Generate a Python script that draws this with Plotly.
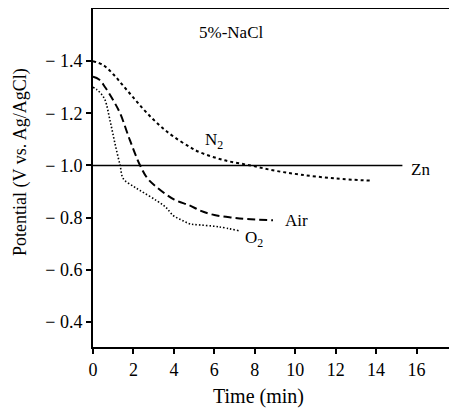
import plotly.graph_objects as go

# Data
t_n2 = [0, 0.5, 1.0, 1.5, 2.0, 2.5, 3.0, 3.5, 4.0, 4.8, 5.3, 6.5, 7.8, 9.0, 10.25, 12.0, 13.7]
v_n2 = [-1.40, -1.385, -1.35, -1.305, -1.26, -1.215, -1.175, -1.14, -1.11, -1.07, -1.05, -1.02, -1.00, -0.98, -0.965, -0.95, -0.942]

t_air = [0, 0.3, 0.6, 1.0, 1.34, 1.83, 2.33, 2.7, 3.15, 4.0, 4.8, 5.3, 6.0, 6.93, 7.6, 8.9]
v_air = [-1.34, -1.33, -1.30, -1.25, -1.20, -1.096, -1.00, -0.95, -0.917, -0.87, -0.846, -0.827, -0.81, -0.80, -0.795, -0.79]

t_o2 = [0, 0.2, 0.4, 0.6, 0.84, 1.09, 1.34, 1.5, 2.0, 2.33, 3.15, 3.6, 3.97, 4.4, 4.8, 5.3, 6.2, 7.2]
v_o2 = [-1.30, -1.29, -1.275, -1.25, -1.173, -1.083, -1.00, -0.949, -0.92, -0.904, -0.865, -0.84, -0.808, -0.79, -0.776, -0.772, -0.765, -0.75]

t_zn = [0, 15.3]
v_zn = [-1.0, -1.0]

x_ticks = [0, 2, 4, 6, 8, 10, 12, 14, 16]
y_ticks = [-1.4, -1.2, -1.0, -0.8, -0.6, -0.4]
y_ticktext = ["\u2212 1.4", "\u2212 1.2", "\u2212 1.0", "\u2212 0.8", "\u2212 0.6", "\u2212 0.4"]

FONT = "Liberation Serif"

fig = go.Figure()
fig.add_trace(go.Scatter(x=t_zn, y=v_zn, mode="lines",
                         line=dict(color="black", width=1.6)))
fig.add_trace(go.Scatter(x=t_n2, y=v_n2, mode="lines", line_shape="spline",
                         line=dict(color="black", width=2, dash="3px,3px")))
fig.add_trace(go.Scatter(x=t_air, y=v_air, mode="lines", line_shape="spline",
                         line=dict(color="black", width=2, dash="8px,4px")))
fig.add_trace(go.Scatter(x=t_o2, y=v_o2, mode="lines", line_shape="spline",
                         line=dict(color="black", width=1.6, dash="1.5px,2px")))

ann_font = dict(family=FONT, size=17, color="black")
fig.add_annotation(x=5.98, y=-1.092, text="N<sub>2</sub>", showarrow=False, font=ann_font)
fig.add_annotation(x=10.08, y=-0.788, text="Air", showarrow=False, font=ann_font)
fig.add_annotation(x=7.96, y=-0.719, text="O<sub>2</sub>", showarrow=False, font=ann_font)
fig.add_annotation(x=16.2, y=-0.985, text="Zn", showarrow=False, font=ann_font)
fig.add_annotation(x=6.82, y=-1.51, text="5%-NaCl", showarrow=False, font=ann_font)

fig.add_annotation(xref="paper", yref="paper", x=(20 - 93) / 364, y=(347 - 162) / 338,
                   xanchor="center", yanchor="middle",
                   text="Potential (V vs. Ag/AgCl)", textangle=-90, showarrow=False,
                   font=dict(family=FONT, size=18, color="black"))
fig.add_annotation(xref="paper", yref="paper", x=(258 - 93) / 364, y=-(396 - 347) / 338,
                   xanchor="center", yanchor="middle",
                   text="Time (min)", showarrow=False,
                   font=dict(family=FONT, size=20, color="black"))

# the page body adds an 8px margin, so the figure is 8px smaller and shifted
fig.update_layout(
    width=449, height=400,
    margin=dict(l=85, r=0, t=1, b=61, autoexpand=False),
    paper_bgcolor="white", plot_bgcolor="white",
    showlegend=False,
    font=dict(family=FONT, size=18, color="black"),
)
fig.update_xaxes(range=[0, 18], tickvals=x_ticks, ticks="outside", ticklen=5,
                 tickwidth=1.5, tickcolor="black", automargin=False,
                 showline=True, linecolor="black", linewidth=2, mirror=True,
                 showgrid=False, zeroline=False, tickfont=dict(family=FONT, size=18))
fig.update_yaxes(range=[-0.304, -1.6], tickvals=y_ticks, ticktext=y_ticktext,
                 ticks="outside", ticklen=5, tickwidth=1.5, tickcolor="black",
                 automargin=False,
                 showline=True, linecolor="black", linewidth=2,
                 showgrid=False, zeroline=False, tickfont=dict(family=FONT, size=18))

fig.write_html("out.html")
